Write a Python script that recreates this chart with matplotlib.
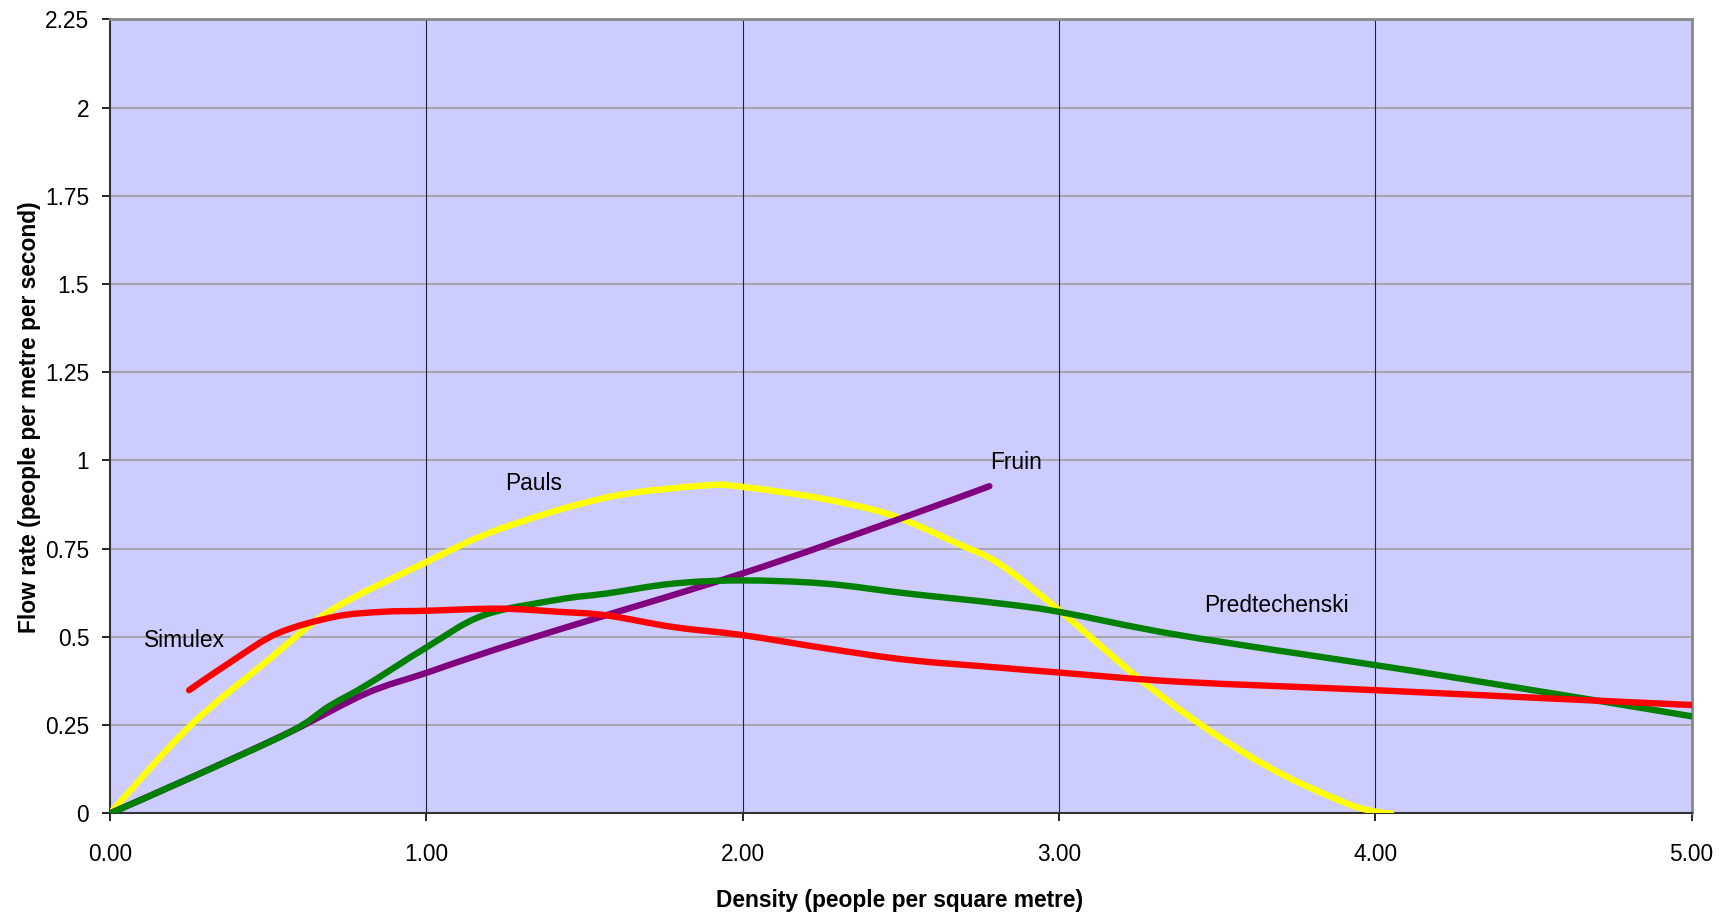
import numpy as np
import matplotlib.pyplot as plt
from matplotlib.path import Path
from matplotlib.patches import PathPatch

plt.rcParams['font.family'] = ['Liberation Sans', 'DejaVu Sans']
fs = 16.4

# flow rate against density for four evacuation models
pauls_x = [0, 0.25, 0.5, 0.7, 1.0, 1.23, 1.57, 1.88, 2.0, 2.25, 2.47, 2.68, 2.81,
           3.0, 3.26, 3.49, 3.7, 3.91, 4.0, 4.05]
pauls_y = [0, 0.245, 0.434, 0.576, 0.712, 0.805, 0.895, 0.929, 0.925, 0.892, 0.845,
           0.764, 0.708, 0.576, 0.377, 0.226, 0.113, 0.028, 0.005, 0]

fruin_x = [0, 0.25, 0.57, 0.81, 1.0, 1.18, 1.42, 2.0, 2.47, 2.78]
fruin_y = [0, 0.099, 0.231, 0.34, 0.398, 0.453, 0.521, 0.68, 0.826, 0.927]

predt_x = [0, 0.25, 0.57, 0.69, 0.81, 1.0, 1.18, 1.42, 1.57, 1.78, 2.0, 2.26, 2.52, 2.81,
           3.0, 3.38, 4.0, 4.2, 4.69, 5.0]
predt_y = [0, 0.099, 0.231, 0.302, 0.363, 0.47, 0.561, 0.606, 0.623, 0.651, 0.66, 0.651,
           0.623, 0.595, 0.571, 0.505, 0.42, 0.392, 0.321, 0.275]

simulex_x = [0.25, 0.39, 0.53, 0.71, 0.86, 1.0, 1.23, 1.42, 1.57, 1.78, 2.0, 2.26, 2.52,
             2.81, 3.0, 3.38, 4.0, 4.54, 5.0]
simulex_y = [0.349, 0.434, 0.51, 0.557, 0.571, 0.574, 0.58, 0.571, 0.561, 0.528, 0.505,
             0.468, 0.435, 0.413, 0.399, 0.373, 0.349, 0.326, 0.307]

x_ticks = [0, 1, 2, 3, 4, 5]
x_labels = ['0.00', '1.00', '2.00', '3.00', '4.00', '5.00']
y_ticks = [0, 0.25, 0.5, 0.75, 1, 1.25, 1.5, 1.75, 2, 2.25]
y_labels = ['0', '0.25', '0.5', '0.75', '1', '1.25', '1.5', '1.75', '2', '2.25']


def smooth_path(xs, ys):
    # bezier path through the points, the same kind of smoothing a spreadsheet uses
    p = np.column_stack([xs, ys]).astype(float)
    ext = np.vstack([p[0], p, p[-1]])
    verts = [p[0]]
    codes = [Path.MOVETO]
    for i in range(len(p) - 1):
        a, b, c, d = ext[i], ext[i + 1], ext[i + 2], ext[i + 3]
        verts += [b + (c - a) / 6, c - (d - b) / 6, c]
        codes += [Path.CURVE4] * 3
    return Path(verts, codes)


def draw(xs, ys, color, z):
    patch = PathPatch(smooth_path(xs, ys), facecolor='none', edgecolor=color, lw=4.6,
                      capstyle='round', joinstyle='round', zorder=z)
    ax.add_patch(patch)


fig = plt.figure(figsize=(17.3, 9.18), dpi=100)
ax = fig.add_axes([0.0636, 0.1140, 0.9142, 0.8650])
ax.set_facecolor('#CCCCFF')

draw(pauls_x, pauls_y, '#FFFF00', 3)
draw(fruin_x, fruin_y, '#800080', 4)
draw(predt_x, predt_y, '#008000', 5)
draw(simulex_x, simulex_y, '#FF0000', 6)

ax.text(0.107, 0.49, 'Simulex', fontsize=fs, va='center', ha='left', zorder=7)
ax.text(1.249, 0.935, 'Pauls', fontsize=fs, va='center', ha='left', zorder=7)
ax.text(2.782, 0.995, 'Fruin', fontsize=fs, va='center', ha='left', zorder=7)
ax.text(3.459, 0.59, 'Predtechenski', fontsize=fs, va='center', ha='left', zorder=7)

ax.set_xlim(0, 5)
ax.set_ylim(0, 2.25)
ax.set_xticks(x_ticks)
ax.set_xticklabels(x_labels)
ax.set_yticks(y_ticks)
ax.set_yticklabels(y_labels)
ax.tick_params(axis='x', direction='out', length=6, width=1.2, pad=15, labelsize=fs)
ax.tick_params(axis='y', direction='out', length=6, width=1.2, pad=9, labelsize=fs)

# horizontal gridlines grey, vertical ones thin and dark
for y in y_ticks[1:-1]:
    ax.axhline(y, color='#A0A0A8', lw=1.3, zorder=1)
for x in x_ticks[1:-1]:
    ax.axvline(x, color='#222233', lw=0.8, zorder=1)

ax.spines['left'].set_color('#333333')
ax.spines['bottom'].set_color('#333333')
ax.spines['left'].set_linewidth(1.5)
ax.spines['bottom'].set_linewidth(1.5)
ax.spines['top'].set_color('#888888')
ax.spines['right'].set_color('#888888')
ax.spines['top'].set_linewidth(2)
ax.spines['right'].set_linewidth(2)

fig.text(900 / 1730, 1 - 900 / 918, 'Density (people per square metre)', fontsize=fs,
         fontweight='bold', ha='center', va='center')
fig.text(30 / 1730, 1 - 417 / 918, 'Flow rate (people per metre per second)', fontsize=fs,
         fontweight='bold', ha='center', va='center', rotation=90)

fig.savefig('out.png', dpi=100)
